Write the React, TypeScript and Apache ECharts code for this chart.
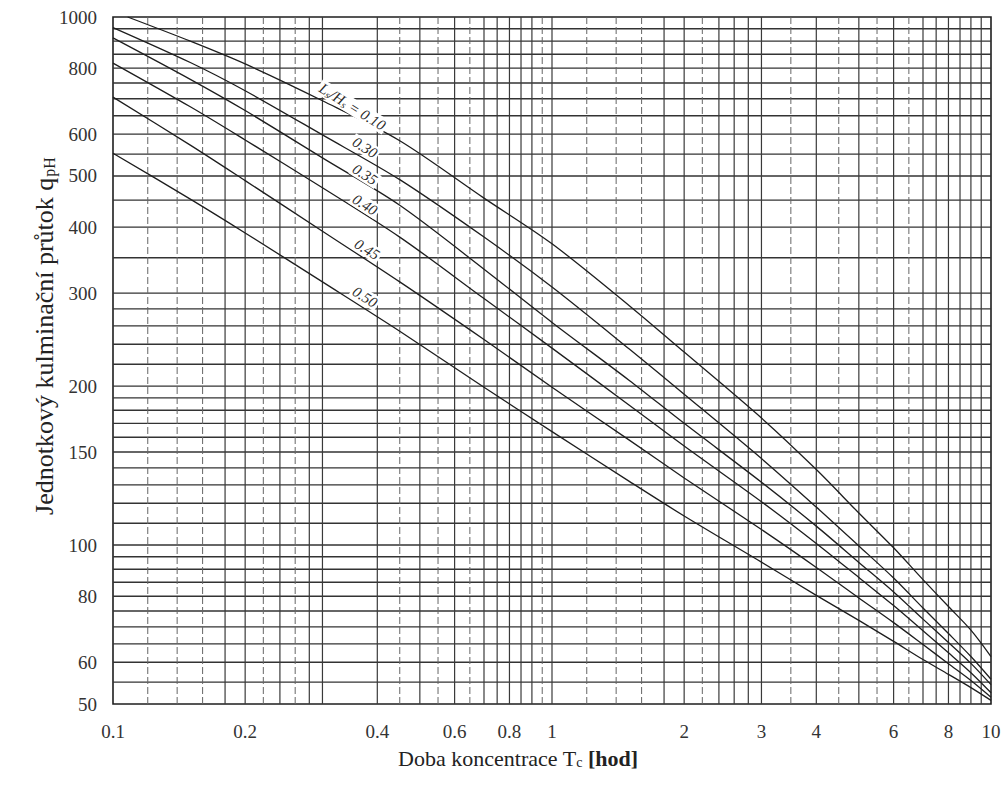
import React, { useEffect, useRef } from 'react';
import * as echarts from 'echarts';

// Axis ranges
const xMin = 0.1;
const xMax = 10;
const yMin = 50;
const yMax = 1000;

// Tick labels
const xTickLabels = [0.1, 0.2, 0.4, 0.6, 0.8, 1, 2, 3, 4, 6, 8, 10];
const yTickLabels = [50, 60, 80, 100, 150, 200, 300, 400, 500, 600, 800, 1000];

// Grid lines
const xGridSolid = [0.18, 0.2, 0.24, 0.28, 0.3, 0.4, 0.5, 0.6, 0.7, 0.75, 0.8, 0.85, 0.9, 1, 1.8, 2, 2.4, 2.6, 2.8, 3, 4, 5, 6, 7, 7.5, 8, 8.5, 9, 9.5];
const xGridDashed = [0.12, 0.14, 0.16, 0.22, 0.26, 0.45, 0.55, 0.65, 0.95, 1.2, 1.4, 1.6, 2.2, 3.5, 4.5, 5.5, 6.5];
const yGrid = [55, 60, 65, 70, 75, 80, 85, 90, 95, 100, 110, 120, 130, 140, 150, 160, 170, 180, 190, 200, 220, 240, 260, 280, 300, 350, 400, 450, 500, 550, 600, 650, 700, 750, 800, 850, 900, 950];

// Curves: doba koncentrace Tc [hod] vs q_pH
const ratioNames = ['0.10', '0.30', '0.35', '0.40', '0.45', '0.50'];
const tc010 = [0.108, 0.15, 0.2, 0.3, 0.45, 0.7, 1, 1.5, 2, 3, 4, 5, 6, 7, 8, 9, 10];
const tc = [0.1, 0.15, 0.2, 0.3, 0.45, 0.7, 1, 1.5, 2, 3, 4, 5, 6, 7, 8, 9, 10];
const q010 = [1000, 900, 815, 694, 583, 454, 372, 284, 232, 174, 139, 115, 98.8, 86, 76.5, 69, 61.5];
const q030 = [955, 820, 725, 598, 492, 383, 308, 235, 193, 145.8, 118, 99.6, 86.6, 76, 68, 61.5, 55.7];
const q035 = [913, 762, 665, 541, 440, 333, 264, 205, 170, 131.5, 108.6, 92.7, 81.5, 72.4, 65.4, 59.7, 54.4];
const q040 = [818, 676, 585, 475, 383, 293, 236, 184, 154, 120.8, 100.7, 86.8, 76.8, 68.8, 62.5, 57.3, 52.5];
const q045 = [705, 572, 490, 393, 315, 245, 199, 158, 134, 107, 90.7, 79.4, 71.3, 64.8, 59.6, 55.4, 51.5];
const q050 = [552, 452, 390, 315, 254, 199, 164, 132, 113.5, 92.8, 80.3, 72, 65.7, 60.7, 56.9, 53.7, 50.8];

// Curve label anchors (data units)
const labelTc = [0.351, 0.375, 0.375, 0.375, 0.379, 0.375];
const labelQ = [676, 566, 503, 441, 363, 295];
const labelTexts = ['L{s|s}/H{s|s} = 0.10', '0.30', '0.35', '0.40', '0.45', '0.50'];

const FONT = '"Liberation Serif", "DejaVu Serif", serif';

export default function App() {
  const ref = useRef<HTMLDivElement>(null);

  useEffect(() => {
    if (!ref.current) return;
    const chart = echarts.init(ref.current, undefined, { renderer: 'svg' });

    const curveSeries = [q010, q030, q035, q040, q045, q050].map((q, i) => ({
      type: 'line',
      name: ratioNames[i],
      data: (i === 0 ? tc010 : tc).map((x, j) => [x, q[j]]),
      smooth: 0.3,
      showSymbol: false,
      symbol: 'none',
      silent: true,
      z: 4,
      lineStyle: { color: '#1e1e1e', width: 1.3 },
    }));

    const vLine = (dashed: boolean) => (params: any, api: any) => {
      const v = api.value(0);
      const a = api.coord([v, yMin]);
      const b = api.coord([v, yMax]);
      return {
        type: 'line',
        shape: { x1: a[0], y1: a[1], x2: b[0], y2: b[1] },
        style: dashed
          ? { stroke: '#666', lineWidth: 1, lineDash: [7, 3] }
          : { stroke: '#3a3a3a', lineWidth: 1.2 },
      };
    };

    const option: any = {
      animation: false,
      backgroundColor: '#ffffff',
      textStyle: { fontFamily: FONT },
      grid: {
        left: 113,
        right: 16,
        top: 17,
        bottom: 86,
        show: true,
        borderColor: '#1e1e1e',
        borderWidth: 1.6,
        backgroundColor: 'transparent',
      },
      xAxis: {
        type: 'log',
        logBase: 10,
        min: xMin,
        max: xMax,
        axisLine: { show: false },
        axisTick: { show: false },
        axisLabel: { show: false },
        splitLine: { show: false },
        minorSplitLine: { show: false },
      },
      yAxis: {
        type: 'log',
        logBase: 10,
        min: yMin,
        max: yMax,
        axisLine: { show: false },
        axisTick: { show: false },
        axisLabel: { show: false },
        splitLine: { show: false },
        minorSplitLine: { show: false },
      },
      series: [
        {
          type: 'custom',
          coordinateSystem: 'cartesian2d',
          silent: true,
          z: 1,
          data: yGrid.map((v) => [xMin, v]),
          renderItem: (params: any, api: any) => {
            const v = api.value(1);
            const a = api.coord([xMin, v]);
            const b = api.coord([xMax, v]);
            return {
              type: 'line',
              shape: { x1: a[0], y1: a[1], x2: b[0], y2: b[1] },
              style: { stroke: '#333', lineWidth: 1.4 },
            };
          },
        },
        {
          type: 'custom',
          coordinateSystem: 'cartesian2d',
          silent: true,
          z: 1,
          data: xGridSolid.map((v) => [v, yMin]),
          renderItem: vLine(false),
        },
        {
          type: 'custom',
          coordinateSystem: 'cartesian2d',
          silent: true,
          z: 1,
          data: xGridDashed.map((v) => [v, yMin]),
          renderItem: vLine(true),
        },
        ...curveSeries,
        {
          type: 'custom',
          coordinateSystem: 'cartesian2d',
          silent: true,
          z: 6,
          data: labelTc.map((x, i) => [x, labelQ[i]]),
          renderItem: (params: any, api: any) => {
            const p = api.coord([api.value(0), api.value(1)]);
            return {
              type: 'text',
              x: p[0],
              y: p[1],
              rotation: -0.56,
              style: {
                text: labelTexts[params.dataIndex],
                fontFamily: FONT,
                fontSize: 15,
                fontStyle: 'italic',
                fill: '#2a2a2a',
                align: 'center',
                verticalAlign: 'middle',
                backgroundColor: '#ffffff',
                padding: [0, 2, 0, 2],
                rich: {
                  s: { fontSize: 10, fontStyle: 'italic', fontFamily: FONT, fill: '#2a2a2a', padding: [6, 0, 0, 0] },
                },
              },
            };
          },
        },
        {
          type: 'custom',
          coordinateSystem: 'cartesian2d',
          silent: true,
          z: 6,
          data: xTickLabels.map((v) => [v, yMin]),
          renderItem: (params: any, api: any) => {
            const v = api.value(0);
            const p = api.coord([v, yMin]);
            return {
              type: 'text',
              x: p[0],
              y: p[1] + 27,
              style: {
                text: String(xTickLabels[params.dataIndex]),
                fontFamily: FONT,
                fontSize: 19,
                fill: '#333',
                align: 'center',
                verticalAlign: 'middle',
              },
            };
          },
        },
        {
          type: 'custom',
          coordinateSystem: 'cartesian2d',
          silent: true,
          z: 6,
          data: yTickLabels.map((v) => [xMin, v]),
          renderItem: (params: any, api: any) => {
            const p = api.coord([xMin, api.value(1)]);
            return {
              type: 'text',
              x: p[0] - 16,
              y: p[1],
              style: {
                text: String(yTickLabels[params.dataIndex]),
                fontFamily: FONT,
                fontSize: 19,
                fill: '#333',
                align: 'right',
                verticalAlign: 'middle',
              },
            };
          },
        },
      ],
      graphic: [
        {
          type: 'text',
          x: 44,
          y: 336,
          rotation: Math.PI / 2,
          silent: true,
          style: {
            text: 'Jednotkový kulminační průtok q{sub|pH}',
            fontFamily: FONT,
            fontSize: 26,
            fill: '#222',
            align: 'center',
            verticalAlign: 'middle',
            rich: {
              sub: { fontFamily: FONT, fontSize: 16, fill: '#222', padding: [11, 0, 0, 1] },
            },
          },
        },
        {
          type: 'text',
          x: 518,
          y: 758,
          silent: true,
          style: {
            text: 'Doba koncentrace T{sub|c} {b|[hod]}',
            fontFamily: FONT,
            fontSize: 22,
            fill: '#222',
            align: 'center',
            verticalAlign: 'middle',
            rich: {
              sub: { fontFamily: FONT, fontSize: 14, fill: '#222', padding: [9, 0, 0, 0] },
              b: { fontFamily: FONT, fontSize: 22, fontWeight: 'bold', fill: '#222' },
            },
          },
        },
      ],
    };

    chart.setOption(option);
    return () => {
      chart.dispose();
    };
  }, []);

  return (
    <div
      ref={ref}
      style={{ position: 'fixed', left: 0, top: 0, width: 1007, height: 790, background: '#fff' }}
    />
  );
}
